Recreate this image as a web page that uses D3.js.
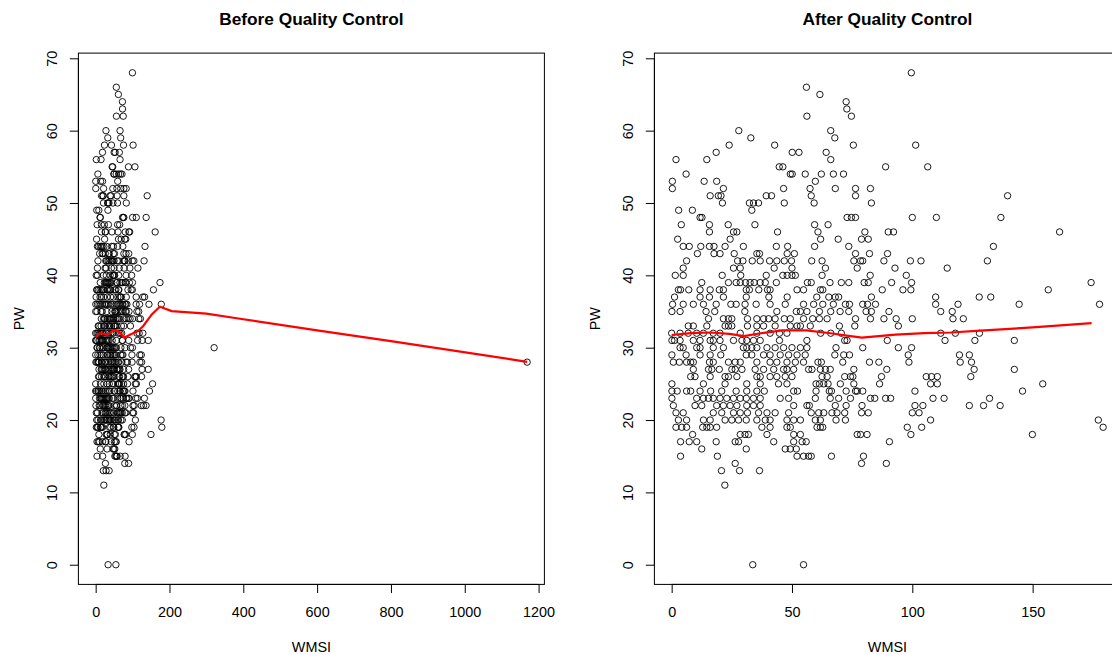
<!DOCTYPE html>
<html>
<head>
<meta charset="utf-8">
<script src="https://cdn.jsdelivr.net/npm/d3@7"></script>
<style>
  body { margin: 0; background: #fff; }
  svg text { font-family: "Liberation Sans", Arial, Helvetica, sans-serif; fill: #000; }
</style>
</head>
<body>
<div class="chart"></div>
<script>
// PW rows (integer values) and the WMSI of every sample sitting on that row,
// read off the "After Quality Control" panel.
const pwRows = [68, 66, 65, 64, 63, 62, 60, 59, 58, 57, 56, 55, 54, 53, 52, 51, 50, 49, 48,
  47, 46, 45, 44, 43, 42, 41, 40, 39, 38, 37, 36, 35, 34, 33, 32, 31, 30, 29, 28, 27, 26,
  25, 24, 23, 22, 21, 20, 19, 18, 17, 16, 15, 14, 13, 11, 0];

const wmsiByRow = [
  [99.6],
  [56.0],
  [61.6],
  [72.5],
  [72.8],
  [56.2, 74.7],
  [27.9, 66.1],
  [32.9, 67.8],
  [23.9, 42.8, 75.5, 101.4],
  [18.5, 50.1, 52.9, 64.2],
  [1.8, 14.6, 66.1],
  [44.7, 46.2, 88.9, 106.4],
  [6.0, 49.3, 50.1, 55.5, 62.2, 67.2, 71.4],
  [0.3, 13.5, 18.7, 59.7],
  [0.3, 21.5, 46.5, 57.5, 68.0, 76.4, 82.6],
  [16.0, 19.4, 20.5, 39.3, 41.5, 58.0, 76.4, 139.6],
  [21.1, 32.3, 34.0, 36.1, 46.8, 59.2, 83.0],
  [2.9, 8.6, 33.3],
  [11.8, 12.6, 72.9, 74.7, 76.4, 100.0, 110.0, 136.8],
  [4.0, 15.7, 23.5, 34.6, 59.4, 65.0],
  [15.7, 25.7, 27.1, 44.0, 60.8, 80.3, 90.0, 92.2, 161.2],
  [2.5, 24.3, 61.9, 69.2, 78.9, 81.7],
  [4.8, 7.3, 12.1, 15.7, 17.6, 22.2, 29.8, 43.5, 48.2, 59.4, 73.6, 133.7],
  [10.7, 17.6, 20.1, 26.0, 35.4, 36.5, 48.0, 51.0, 76.4, 82.2, 89.7],
  [6.2, 27.4, 29.6, 33.5, 36.8, 40.7, 43.7, 46.8, 49.8, 58.2, 62.5, 75.7, 78.5, 79.4, 88.2, 99.2, 103.6, 131.2],
  [4.8, 25.7, 28.5, 42.6, 50.0, 63.9, 77.1, 92.8, 114.5],
  [1.5, 4.8, 21.0, 28.7, 39.3, 46.2, 48.0, 50.0, 51.4, 62.5, 82.5, 97.5],
  [12.5, 23.6, 26.8, 28.5, 30.7, 32.6, 34.3, 36.8, 38.9, 43.5, 56.4, 58.0, 65.8, 70.5, 73.6, 80.0, 81.7, 91.4, 99.7, 174.3],
  [2.8, 3.7, 7.1, 11.8, 16.0, 19.8, 21.5, 31.0, 32.3, 36.2, 39.8, 40.9, 52.1, 54.8, 61.8, 62.8, 87.5, 96.1, 99.4, 156.5],
  [1.2, 11.8, 15.7, 21.5, 31.0, 40.4, 48.0, 60.3, 65.3, 68.0, 69.4, 83.0, 109.7, 127.8, 132.6],
  [0.4, 4.8, 9.0, 13.2, 18.5, 24.6, 26.8, 30.5, 35.1, 40.9, 47.2, 54.8, 59.0, 62.8, 67.2, 72.2, 73.9, 79.4, 81.4, 84.7, 109.7, 119.0, 144.4, 177.8],
  [0.1, 3.5, 14.3, 17.9, 30.4, 43.7, 51.8, 53.5, 56.2, 61.4, 66.1, 70.0, 73.6, 80.8, 83.0, 90.3, 111.8, 116.6],
  [15.3, 21.5, 23.6, 25.0, 31.5, 35.4, 38.2, 40.3, 43.0, 46.8, 49.3, 54.8, 58.6, 61.4, 64.6, 76.4, 82.6, 88.2, 93.3, 100.0, 116.9, 121.2],
  [6.9, 9.0, 14.6, 22.2, 23.6, 25.0, 31.5, 35.4, 38.2, 43.0, 49.3, 52.1, 53.5, 57.6, 69.7, 76.1, 94.2],
  [0.0, 3.5, 6.9, 10.4, 13.2, 17.3, 20.1, 28.5, 35.4, 40.9, 44.8, 47.9, 61.9, 66.1, 70.5, 111.8, 117.9, 127.9],
  [0.1, 1.2, 3.5, 9.0, 11.8, 16.0, 17.3, 20.1, 25.7, 29.2, 31.2, 34.0, 36.8, 44.8, 56.2, 71.9, 72.9, 89.6, 113.6, 126.0, 142.4],
  [3.5, 4.8, 10.4, 11.8, 17.3, 21.5, 29.8, 31.2, 33.3, 35.4, 39.6, 43.0, 46.5, 50.0, 53.5, 56.2, 68.3, 79.4, 94.2, 99.7],
  [0.1, 6.0, 11.8, 16.0, 20.4, 31.0, 33.3, 38.2, 40.9, 45.1, 48.6, 52.1, 55.5, 67.8, 71.5, 73.9, 98.3, 119.6, 123.7],
  [0.7, 3.2, 6.2, 7.9, 9.0, 15.7, 17.3, 23.6, 26.4, 28.5, 35.4, 40.9, 43.7, 47.9, 51.4, 54.8, 60.8, 62.2, 71.1, 82.2, 86.1, 98.6, 119.9, 124.6],
  [9.0, 15.3, 16.7, 19.8, 25.0, 26.4, 29.2, 34.7, 38.2, 42.4, 46.5, 47.9, 50.7, 56.9, 58.3, 61.8, 63.9, 65.9, 75.7, 89.4, 125.7, 142.4],
  [7.9, 9.7, 16.0, 22.2, 23.6, 27.1, 35.4, 36.8, 40.9, 43.7, 47.2, 50.0, 62.5, 64.6, 71.9, 74.3, 75.3, 87.2, 105.8, 108.0, 110.4, 124.3],
  [0.1, 13.2, 22.2, 31.2, 36.8, 44.4, 47.9, 60.0, 61.4, 63.2, 65.0, 70.1, 75.7, 86.4, 107.6, 110.4, 154.2],
  [0.1, 2.3, 6.2, 7.9, 11.8, 16.2, 20.8, 26.8, 31.2, 35.4, 38.5, 50.7, 52.3, 60.0, 65.5, 66.4, 72.5, 76.4, 77.1, 79.4, 101.1, 145.8],
  [0.1, 10.4, 13.2, 15.3, 17.3, 20.1, 22.9, 25.7, 28.5, 31.0, 34.0, 36.8, 45.1, 48.6, 59.7, 65.9, 69.4, 74.3, 82.6, 84.4, 88.9, 91.0, 108.6, 113.2, 132.1],
  [0.7, 9.7, 12.5, 18.7, 21.5, 24.3, 27.1, 31.2, 34.0, 36.8, 50.7, 56.2, 57.2, 68.0, 72.5, 79.1, 101.1, 104.4, 123.7, 129.6, 136.5],
  [1.8, 4.8, 17.3, 20.8, 25.7, 28.5, 31.5, 36.1, 39.6, 43.0, 48.6, 58.0, 61.1, 63.2, 66.6, 68.7, 71.9, 78.9, 81.7, 100.0, 102.8],
  [2.8, 6.2, 13.2, 16.0, 22.2, 25.0, 27.8, 31.0, 35.4, 38.9, 40.9, 47.9, 50.7, 53.5, 59.7, 61.8, 68.3, 72.2, 107.6, 177.3],
  [1.8, 4.2, 6.2, 12.9, 14.6, 16.0, 18.7, 37.5, 40.9, 47.9, 49.3, 60.4, 61.8, 62.8, 97.9, 103.9, 179.3],
  [8.7, 28.5, 30.5, 31.9, 39.6, 50.7, 53.5, 77.1, 78.5, 81.2, 99.4, 149.9],
  [3.7, 7.3, 10.4, 18.5, 26.4, 27.8, 42.4, 50.7, 54.2, 55.9, 90.5],
  [12.5, 31.0, 47.2, 49.3, 51.8],
  [3.7, 19.0, 52.1, 54.8, 56.9, 58.0, 66.4, 79.7],
  [26.4, 78.9, 89.2],
  [20.7, 28.2, 36.5],
  [22.1],
  [33.7, 54.8]
];

// the two samples dropped by quality control
const removedWmsi = [321, 1169];
const removedPw = [30, 28];

// smoother curves as drawn in each panel
const smoothBeforeX = [0, 12, 34, 48, 61, 78, 97, 115, 129, 152, 174, 206, 300, 391, 600, 800, 1169];
const smoothBeforeY = [31.4, 32.0, 31.8, 32.4, 32.3, 31.4, 31.9, 32.3, 33.0, 34.6, 35.65, 35.05, 34.7, 34.0, 32.4, 30.9, 28.05];
const smoothAfterX = [0, 8, 16, 24, 30, 37, 46, 56, 66, 72, 79, 86, 93, 105, 116, 130, 150, 174.5];
const smoothAfterY = [31.75, 32.0, 32.1, 31.9, 31.6, 32.0, 32.4, 32.4, 32.0, 31.7, 31.4, 31.6, 31.8, 32.0, 32.1, 32.4, 32.8, 33.4];

const ticksBefore = [0, 200, 400, 600, 800, 1000, 1200];
const ticksAfter = [0, 50, 100, 150];
const ticksPw = [0, 10, 20, 30, 40, 50, 60, 70];

const titles = ['Before Quality Control', 'After Quality Control'];

(function() {

  const width = 1112;
  const height = 655;
  const plot = { top: 53.1, bottom: 584.4, width: 466 };
  const panelLeft = [78.4, 654.4];
  const tick = 8.6;

  // flatten the rows into parallel arrays
  const afterWmsi = [];
  const afterPw = [];
  wmsiByRow.forEach((row, r) => {
    row.forEach((w) => {
      afterWmsi.push(w);
      afterPw.push(pwRows[r]);
    });
  });
  const beforeWmsi = afterWmsi.concat(removedWmsi);
  const beforePw = afterPw.concat(removedPw);

  // R style: extend the data range by 4% each side
  const padded = (ext) => {
    const p = (ext[1] - ext[0]) * 0.04;
    return [ext[0] - p, ext[1] + p];
  };

  const svg = d3.select('.chart')
    .append('svg')
    .attr('width', width)
    .attr('height', height);

  function drawPanel(left, xs, ys, xTicks, lineX, lineY, title) {

    const right = left + plot.width;

    const x = d3.scaleLinear()
      .domain(padded(d3.extent(xs)))
      .range([left, right]);

    const y = d3.scaleLinear()
      .domain(padded(d3.extent(ys)))
      .range([plot.bottom, plot.top]);

    const g = svg.append('g');

    // points
    g.append('g')
      .selectAll('circle')
      .data(d3.range(xs.length))
      .join('circle')
      .attr('cx', (i) => x(xs[i]))
      .attr('cy', (i) => y(ys[i]))
      .attr('r', 3.2)
      .attr('fill', 'none')
      .attr('stroke', '#000')
      .attr('stroke-width', 0.9);

    // smoother
    const line = d3.line()
      .x((i) => x(lineX[i]))
      .y((i) => y(lineY[i]));

    g.append('path')
      .attr('d', line(d3.range(lineX.length)))
      .attr('fill', 'none')
      .attr('stroke', '#ff0000')
      .attr('stroke-width', 2.2);

    // box
    g.append('rect')
      .attr('x', left)
      .attr('y', plot.top)
      .attr('width', plot.width)
      .attr('height', plot.bottom - plot.top)
      .attr('fill', 'none')
      .attr('stroke', '#000')
      .attr('stroke-width', 1);

    // x axis
    const gX = g.append('g')
      .attr('transform', `translate(0,${plot.bottom})`)
      .call(d3.axisBottom(x).tickValues(xTicks).tickSize(tick).tickFormat(d3.format('d')));
    gX.select('.domain').remove();
    gX.append('line')
      .attr('x1', x(xTicks[0]))
      .attr('x2', x(xTicks[xTicks.length - 1]))
      .attr('stroke', '#000');
    gX.selectAll('.tick line').attr('stroke', '#000');
    gX.selectAll('.tick text')
      .attr('y', 32.6)
      .attr('dy', null)
      .style('font-size', '14.4px')
      .style('font-family', null);

    // y axis, labels turned like R's las = 0
    const gY = g.append('g')
      .attr('transform', `translate(${left},0)`)
      .call(d3.axisLeft(y).tickValues(ticksPw).tickSize(tick));
    gY.select('.domain').remove();
    gY.append('line')
      .attr('y1', y(ticksPw[0]))
      .attr('y2', y(ticksPw[ticksPw.length - 1]))
      .attr('stroke', '#000');
    gY.selectAll('.tick line').attr('stroke', '#000');
    gY.selectAll('.tick text')
      .attr('transform', 'rotate(-90)')
      .attr('x', 0)
      .attr('y', -21.7)
      .attr('dy', null)
      .attr('text-anchor', 'middle')
      .style('font-size', '14.4px')
      .style('font-family', null);

    gX.attr('font-family', null);
    gY.attr('font-family', null);

    // labels
    g.append('text')
      .attr('x', (left + right) / 2)
      .attr('y', 651.7)
      .attr('text-anchor', 'middle')
      .style('font-size', '14.4px')
      .text('WMSI');

    g.append('text')
      .attr('transform', `translate(${left - 54.9},${(plot.top + plot.bottom) / 2}) rotate(-90)`)
      .attr('text-anchor', 'middle')
      .style('font-size', '14.4px')
      .text('PW');

    g.append('text')
      .attr('x', (left + right) / 2)
      .attr('y', 25)
      .attr('text-anchor', 'middle')
      .style('font-size', '17.3px')
      .style('font-weight', 'bold')
      .text(title);
  }

  drawPanel(panelLeft[0], beforeWmsi, beforePw, ticksBefore, smoothBeforeX, smoothBeforeY, titles[0]);
  drawPanel(panelLeft[1], afterWmsi, afterPw, ticksAfter, smoothAfterX, smoothAfterY, titles[1]);

}());
</script>
</body>
</html>
